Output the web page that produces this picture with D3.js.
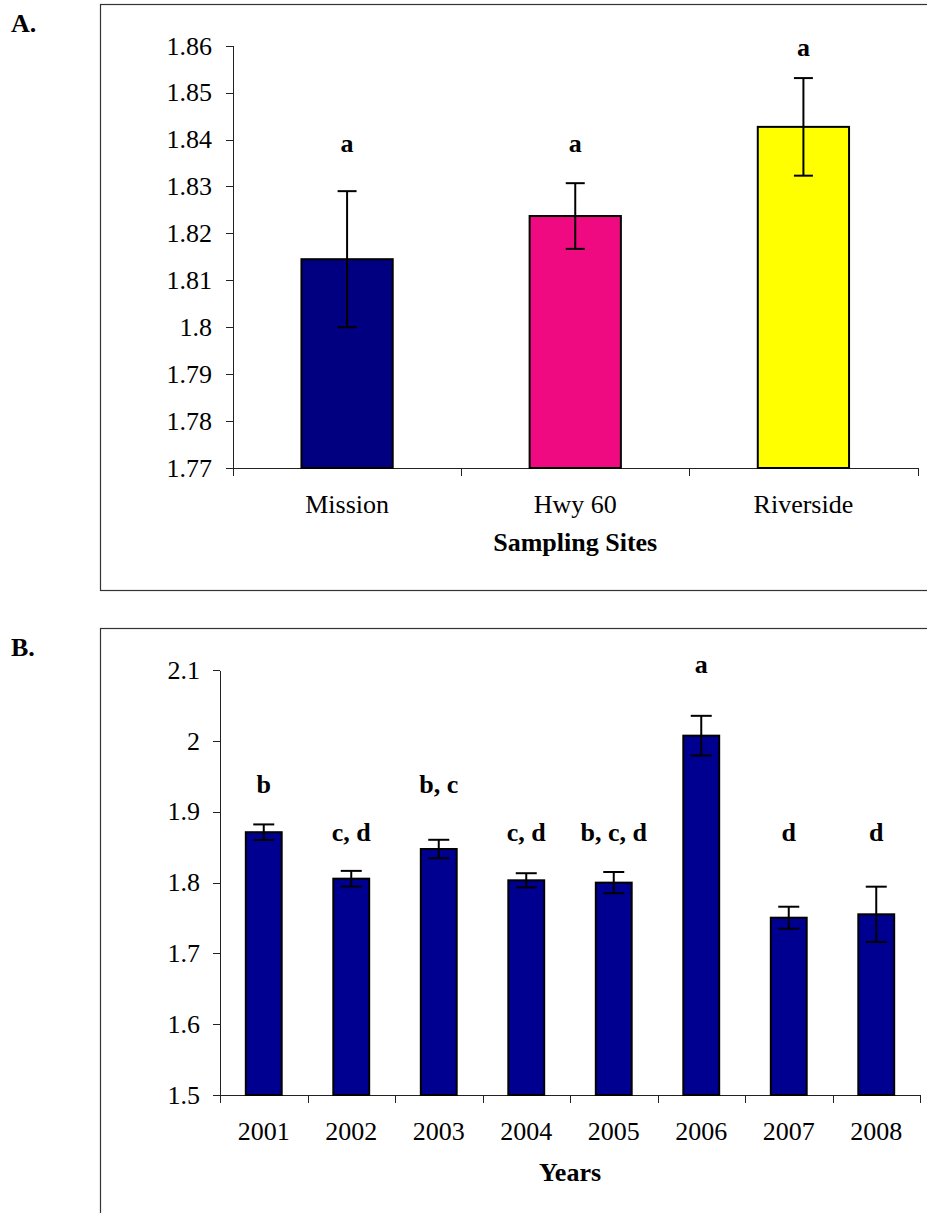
<!DOCTYPE html>
<html lang="en">
  <head>
    <meta charset="utf-8">
    <title>Sampling sites and years</title>
    <script src="https://cdnjs.cloudflare.com/ajax/libs/d3/7.8.0/d3.min.js"></script>
    <style>
      body { margin: 0; background: #fff; }
      svg text { font-family: "Liberation Serif", "Times New Roman", serif; fill: #000; }
      .axis path, .axis line { stroke: #222; shape-rendering: crispEdges; }
      .axis text { font-size: 26px; }
      .panel-label, .axis-title, .letter { font-weight: bold; font-size: 26px; }
    </style>
  </head>
  <body>
    <div id="chart"></div>

    <script type="text/javascript">
      // Panel A: sampling sites
      var sites = ["Mission", "Hwy 60", "Riverside"];
      var siteMeans = [1.8145, 1.8237, 1.8427];
      var siteErrors = [0.0145, 0.0070, 0.0104];
      var siteLetters = ["a", "a", "a"];
      var siteLetterLevels = [1.8374, 1.8374, 1.8577]; // where the letter sits, in data units
      var siteColors = ["#000080", "#EF0A82", "#FFFF00"];
      var siteTicks = [1.77, 1.78, 1.79, 1.80, 1.81, 1.82, 1.83, 1.84, 1.85, 1.86];

      // Panel B: years
      var years = ["2001", "2002", "2003", "2004", "2005", "2006", "2007", "2008"];
      var yearMeans = [1.871, 1.8054, 1.8473, 1.8031, 1.7998, 2.0073, 1.7503, 1.7551];
      var yearErrors = [0.011, 0.011, 0.013, 0.010, 0.015, 0.028, 0.0155, 0.039];
      var yearLetters = ["b", "c, d", "b, c", "c, d", "b, c, d", "a", "d", "d"];
      var yearLetterLevels = [1.9264, 1.8586, 1.9264, 1.8586, 1.8586, 2.0958, 1.8586, 1.8586];
      var yearTicks = [1.5, 1.6, 1.7, 1.8, 1.9, 2.0, 2.1];

      var W = 927, H = 1213;
      var svg = d3.select("#chart").append("svg")
          .attr("width", W)
          .attr("height", H);

      var fmt = function(d) { return String(+d.toFixed(2)); };

      function drawPanel(opt) {
        var g = svg.append("g");

        // frame around the panel
        g.append("rect")
          .attr("x", 100.5).attr("y", opt.frameTop)
          .attr("width", 840).attr("height", opt.frameHeight)
          .attr("fill", "none")
          .attr("stroke", "#333")
          .attr("stroke-width", 1.2);

        g.append("text")
          .attr("class", "panel-label")
          .attr("x", 11).attr("y", opt.labelY)
          .text(opt.panelLabel);

        var x = d3.scaleBand()
          .domain(opt.cats)
          .range([opt.left, opt.right])
          .padding(0);

        var y = d3.scaleLinear()
          .domain(opt.domain)
          .range([opt.bottom, opt.top]);

        // y axis
        g.append("g")
          .attr("class", "axis")
          .attr("transform", "translate(" + opt.left + ",0)")
          .call(d3.axisLeft(y)
            .tickValues(opt.ticks)
            .tickFormat(fmt)
            .tickSize(7)
            .tickSizeOuter(0)
            .tickPadding(opt.tickPad));

        // x axis: baseline, category boundary ticks, labels
        var xAxis = g.append("g")
          .attr("class", "axis")
          .attr("transform", "translate(0," + opt.bottom + ")")
          .call(d3.axisBottom(x).tickSize(0).tickPadding(26.5));
        xAxis.select(".domain").remove();

        var edges = opt.cats.map(function(c) { return x(c); }).concat([opt.right]);
        xAxis.append("line")
          .attr("x1", opt.left).attr("x2", opt.right)
          .attr("y1", 0.5).attr("y2", 0.5);
        xAxis.selectAll(".edge")
          .data(edges)
          .enter().append("line")
          .attr("class", "edge")
          .attr("x1", function(d) { return Math.round(d) + 0.5; })
          .attr("x2", function(d) { return Math.round(d) + 0.5; })
          .attr("y1", 0).attr("y2", 8);

        g.append("text")
          .attr("class", "axis-title")
          .attr("x", (opt.left + opt.right) / 2)
          .attr("y", opt.titleY)
          .attr("text-anchor", "middle")
          .text(opt.title);

        var bw = x.bandwidth() * opt.barFrac;
        var cx = function(i) { return x(opt.cats[i]) + x.bandwidth() / 2; };

        // bars
        g.selectAll(".bar")
          .data(opt.means)
          .enter().append("rect")
          .attr("class", "bar")
          .attr("x", function(d, i) { return cx(i) - bw / 2; })
          .attr("y", function(d) { return y(d); })
          .attr("width", bw)
          .attr("height", function(d) { return opt.bottom - y(d); })
          .attr("fill", function(d, i) { return opt.colors[i % opt.colors.length]; })
          .attr("stroke", "#000")
          .attr("stroke-width", 2);

        // error bars
        var capW = opt.capW;
        var eb = g.selectAll(".err")
          .data(opt.means)
          .enter().append("g")
          .attr("class", "err")
          .attr("stroke", "#000")
          .attr("stroke-width", 2);
        eb.append("line")
          .attr("x1", function(d, i) { return cx(i); })
          .attr("x2", function(d, i) { return cx(i); })
          .attr("y1", function(d, i) { return y(d + opt.errs[i]); })
          .attr("y2", function(d, i) { return y(d - opt.errs[i]); });
        eb.append("line")
          .attr("x1", function(d, i) { return cx(i) - capW / 2; })
          .attr("x2", function(d, i) { return cx(i) + capW / 2; })
          .attr("y1", function(d, i) { return y(d + opt.errs[i]); })
          .attr("y2", function(d, i) { return y(d + opt.errs[i]); });
        eb.append("line")
          .attr("x1", function(d, i) { return cx(i) - capW / 2; })
          .attr("x2", function(d, i) { return cx(i) + capW / 2; })
          .attr("y1", function(d, i) { return y(d - opt.errs[i]); })
          .attr("y2", function(d, i) { return y(d - opt.errs[i]); });

        // significance letters
        g.selectAll(".letter")
          .data(opt.letters)
          .enter().append("text")
          .attr("class", "letter")
          .attr("x", function(d, i) { return cx(i); })
          .attr("y", function(d, i) { return y(opt.letterLevels[i]); })
          .attr("text-anchor", "middle")
          .text(function(d) { return d; });
      }

      drawPanel({
        panelLabel: "A.", labelY: 32,
        frameTop: 4.5, frameHeight: 586,
        cats: sites, means: siteMeans, errs: siteErrors,
        letters: siteLetters, letterLevels: siteLetterLevels,
        colors: siteColors, ticks: siteTicks,
        domain: [1.77, 1.86],
        left: 233, right: 917.5, top: 45.7, bottom: 468,
        tickPad: 14, barFrac: 0.4, capW: 19,
        title: "Sampling Sites", titleY: 551
      });

      drawPanel({
        panelLabel: "B.", labelY: 656,
        frameTop: 628.5, frameHeight: 700,
        cats: years, means: yearMeans, errs: yearErrors,
        letters: yearLetters, letterLevels: yearLetterLevels,
        colors: ["#000090"], ticks: yearTicks,
        domain: [1.5, 2.1],
        left: 220, right: 920, top: 670, bottom: 1095,
        tickPad: 13, barFrac: 0.41, capW: 21,
        title: "Years", titleY: 1181
      });
    </script>
  </body>
</html>
